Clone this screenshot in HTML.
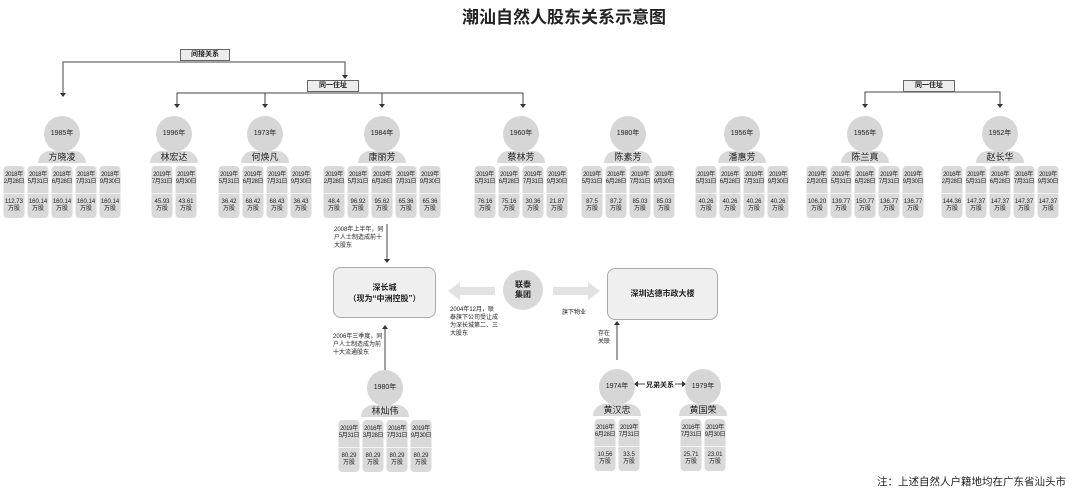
<!DOCTYPE html>
<html><head><meta charset="utf-8"><style>
*{margin:0;padding:0;box-sizing:border-box}
body{width:1080px;height:489px;background:#fff;position:relative;overflow:hidden;font-family:"Liberation Sans","Noto Sans CJK SC",sans-serif;color:#222}
.a{position:absolute}
.t{left:24px;width:1080px;top:3px;text-align:center;font-size:17px;font-weight:bold}
.lbl{background:#ececec;border:1px solid #666;font-size:7px;font-weight:bold;text-align:center;line-height:10px}
.per{position:absolute;width:0}
.c{position:absolute;width:36px;height:36px;border-radius:50%;background:#d6d6d6;left:-18px;top:0;font-size:7px;text-align:center;line-height:36px}
.n{position:absolute;width:48px;height:12px;left:-24px;top:35px;background:#d9d9d9;border-radius:24px 24px 0 0;font-size:9px;text-align:center;line-height:13px}
.cs{position:absolute;top:50px;display:flex;gap:3px;transform:translateX(-50%);left:0}
.cd{width:21px;height:52px;background:#d9d9d9;border-radius:4px;font-size:6px;line-height:7px;text-align:center;white-space:nowrap;overflow:hidden}
.cd b{display:block;font-weight:normal;height:28px;padding-top:6px;border-bottom:1px solid #f4f4f4;letter-spacing:-0.3px}
.cd i{display:block;font-style:normal;padding-top:5px}
.box{background:#efefef;border:1px solid #aaa;border-radius:8px;text-align:center;font-weight:bold}
.sm{font-size:6px;line-height:8px}
</style></head><body>
<div class="a t">潮汕自然人股东关系示意图</div>

<svg class="a" style="left:0;top:0" width="1080" height="489">
<g stroke="#444" stroke-width="1" fill="none">
<path d="M63 94V62H345V76"/>
<path d="M177 105V93H523V105M265 93V105M382 93V105"/>
<path d="M865 105V92H1000V105"/>
<path d="M387 224V260"/>
<path d="M385 370V328"/>
<path d="M617 360V324"/>
<path d="M638 384H645M675 384H682"/>
</g>
<g fill="#333">
<path d="M60 93h6l-3 4z"/><path d="M342 75h6l-3 4z"/>
<path d="M174 104h6l-3 4z"/><path d="M262 104h6l-3 4z"/><path d="M379 104h6l-3 4z"/><path d="M520 104h6l-3 4z"/>
<path d="M862 104h6l-3 4z"/><path d="M997 104h6l-3 4z"/>
<path d="M384 259h6l-3 4z"/>
<path d="M382 329h6l-3 -4z"/><path d="M614 325h6l-3 -4z"/>
<path d="M638 381v6l-4-3z"/><path d="M682 381v6l4-3z"/>
</g>
<g fill="#e2e2e2">
<path d="M448 291l12-9v5h35v8h-35v5z"/>
<path d="M600 291l-12-9v5h-35v8h35v5z"/>
</g>
<circle cx="523" cy="290" r="20" fill="#d9d9d9"/>
</svg>

<div class="a lbl" style="left:180px;top:49px;width:50px;height:12px">间接关系</div>
<div class="a lbl" style="left:307px;top:80px;width:52px;height:12px">同一住址</div>
<div class="a lbl" style="left:903px;top:80px;width:52px;height:12px">同一住址</div>

<div class="per" style="left:62px;top:116px"><div class="c">1985年</div><div class="n">方晓凌</div><div class="cs">
<div class="cd"><b>2018年<br>2月28日</b><i>112.73<br>万股</i></div><div class="cd"><b>2018年<br>5月31日</b><i>160.14<br>万股</i></div><div class="cd"><b>2018年<br>6月28日</b><i>160.14<br>万股</i></div><div class="cd"><b>2018年<br>7月31日</b><i>160.14<br>万股</i></div><div class="cd"><b>2018年<br>9月30日</b><i>160.14<br>万股</i></div></div></div>

<div class="per" style="left:174px;top:116px"><div class="c">1996年</div><div class="n">林宏达</div><div class="cs">
<div class="cd"><b>2019年<br>7月31日</b><i>45.93<br>万股</i></div><div class="cd"><b>2019年<br>9月30日</b><i>43.61<br>万股</i></div></div></div>

<div class="per" style="left:265px;top:116px"><div class="c">1973年</div><div class="n">何焕凡</div><div class="cs">
<div class="cd"><b>2019年<br>5月31日</b><i>36.42<br>万股</i></div><div class="cd"><b>2019年<br>6月28日</b><i>68.42<br>万股</i></div><div class="cd"><b>2019年<br>7月31日</b><i>68.43<br>万股</i></div><div class="cd"><b>2019年<br>9月30日</b><i>36.43<br>万股</i></div></div></div>

<div class="per" style="left:382px;top:116px"><div class="c">1984年</div><div class="n">康丽芳</div><div class="cs">
<div class="cd"><b>2019年<br>2月28日</b><i>48.4<br>万股</i></div><div class="cd"><b>2018年<br>5月31日</b><i>96.92<br>万股</i></div><div class="cd"><b>2019年<br>6月28日</b><i>95.62<br>万股</i></div><div class="cd"><b>2019年<br>7月31日</b><i>65.36<br>万股</i></div><div class="cd"><b>2019年<br>9月30日</b><i>65.36<br>万股</i></div></div></div>

<div class="per" style="left:521px;top:116px"><div class="c">1960年</div><div class="n">蔡林芳</div><div class="cs">
<div class="cd"><b>2019年<br>5月31日</b><i>76.16<br>万股</i></div><div class="cd"><b>2019年<br>6月28日</b><i>75.16<br>万股</i></div><div class="cd"><b>2019年<br>7月31日</b><i>30.36<br>万股</i></div><div class="cd"><b>2019年<br>9月30日</b><i>21.87<br>万股</i></div></div></div>

<div class="per" style="left:628px;top:116px"><div class="c">1980年</div><div class="n">陈素芳</div><div class="cs">
<div class="cd"><b>2019年<br>5月31日</b><i>87.5<br>万股</i></div><div class="cd"><b>2016年<br>6月28日</b><i>87.2<br>万股</i></div><div class="cd"><b>2019年<br>7月31日</b><i>85.03<br>万股</i></div><div class="cd"><b>2019年<br>9月30日</b><i>85.03<br>万股</i></div></div></div>

<div class="per" style="left:742px;top:116px"><div class="c">1956年</div><div class="n">潘惠芳</div><div class="cs">
<div class="cd"><b>2019年<br>5月31日</b><i>40.26<br>万股</i></div><div class="cd"><b>2016年<br>6月28日</b><i>40.26<br>万股</i></div><div class="cd"><b>2019年<br>7月31日</b><i>40.26<br>万股</i></div><div class="cd"><b>2019年<br>9月30日</b><i>40.26<br>万股</i></div></div></div>

<div class="per" style="left:865px;top:116px"><div class="c">1956年</div><div class="n">陈兰真</div><div class="cs">
<div class="cd"><b>2019年<br>2月20日</b><i>106.20<br>万股</i></div><div class="cd"><b>2019年<br>5月31日</b><i>139.77<br>万股</i></div><div class="cd"><b>2016年<br>6月28日</b><i>150.77<br>万股</i></div><div class="cd"><b>2019年<br>7月31日</b><i>136.77<br>万股</i></div><div class="cd"><b>2019年<br>9月30日</b><i>136.77<br>万股</i></div></div></div>

<div class="per" style="left:1000px;top:116px"><div class="c">1952年</div><div class="n">赵长华</div><div class="cs">
<div class="cd"><b>2016年<br>2月28日</b><i>144.36<br>万股</i></div><div class="cd"><b>2019年<br>5月31日</b><i>147.37<br>万股</i></div><div class="cd"><b>2016年<br>6月28日</b><i>147.37<br>万股</i></div><div class="cd"><b>2016年<br>7月31日</b><i>147.37<br>万股</i></div><div class="cd"><b>2019年<br>9月30日</b><i>147.37<br>万股</i></div></div></div>

<div class="a sm" style="left:334px;top:226px;width:52px">2008年上半年，同户人士制造成前十大股东</div>
<div class="a box" style="left:333px;top:267px;width:103px;height:51px;padding-top:14px;font-size:8px;line-height:11px">深长城<br>（现为“中洲控股”）</div>
<div class="a" style="left:503px;top:280px;width:40px;text-align:center;font-size:8px;font-weight:bold;line-height:10px">联泰<br>集团</div>
<div class="a box" style="left:607px;top:268px;width:111px;height:52px;line-height:50px;font-size:8px">深圳达德市政大楼</div>
<div class="a sm" style="left:450px;top:306px;width:48px">2004年12月，联泰旗下公司受让成为深长城第二、三大股东</div>
<div class="a sm" style="left:562px;top:309px">旗下物业</div>
<div class="a sm" style="left:333px;top:333px;width:50px">2006年三季度，同户人士制造成为前十大流通股东</div>
<div class="a sm" style="left:598px;top:330px;width:14px">存在<br>关联</div>
<div class="a" style="left:646px;top:380px;font-size:7px;font-weight:bold">兄弟关系</div>

<div class="per" style="left:385px;top:370px"><div class="c">1980年</div><div class="n">林灿伟</div><div class="cs">
<div class="cd"><b>2019年<br>5月31日</b><i>80.29<br>万股</i></div><div class="cd"><b>2016年<br>3月28日</b><i>80.29<br>万股</i></div><div class="cd"><b>2016年<br>7月31日</b><i>80.29<br>万股</i></div><div class="cd"><b>2019年<br>9月30日</b><i>80.29<br>万股</i></div></div></div>

<div class="per" style="left:617px;top:369px"><div class="c">1974年</div><div class="n">黄汉忠</div><div class="cs">
<div class="cd"><b>2016年<br>6月28日</b><i>10.56<br>万股</i></div><div class="cd"><b>2019年<br>7月31日</b><i>33.5<br>万股</i></div></div></div>

<div class="per" style="left:703px;top:369px"><div class="c">1979年</div><div class="n">黄国荣</div><div class="cs">
<div class="cd"><b>2016年<br>7月31日</b><i>25.71<br>万股</i></div><div class="cd"><b>2019年<br>9月30日</b><i>23.01<br>万股</i></div></div></div>

<div class="a" style="left:877px;top:474px;font-size:10.5px">注：上述自然人户籍地均在广东省汕头市</div>
</body></html>
